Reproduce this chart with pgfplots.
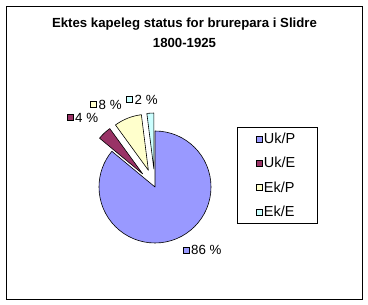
\documentclass[border=0pt]{standalone}
\usepackage{pgfplots}
\usepackage{pgfplotstable}
\pgfplotsset{compat=1.18}
\usepackage{fontspec}
\setmainfont{Liberation Sans}
\definecolor{c0}{HTML}{9999FF}
\definecolor{c1}{HTML}{993366}
\definecolor{c2}{HTML}{FFFFCC}
\definecolor{c3}{HTML}{CCFFFF}
\pgfplotstableread{
name value offset lx ly
Uk/P 86 0  186 250
Uk/E 4  18 70  117.5
Ek/P 8  18 93.5 104.5
Ek/E 2  18 129.5 99.5
}\piedata
\begin{document}
\begin{tikzpicture}
\useasboundingbox (0,0) rectangle (368bp,305bp);
\begin{axis}[
  at={(0,0)}, anchor=origin,
  scale only axis, width=368bp, height=305bp,
  xmin=0, xmax=368, ymin=0, ymax=305,
  axis lines=none, clip=false,
  legend style={at={(237/368,1-127/305)}, anchor=north west,
    draw=black, line width=0.8pt, font=\fontsize{14.5bp}{16bp}\selectfont,
    inner xsep=19bp, inner ysep=3.5bp, row sep=8.3bp,
    nodes={inner xsep=1bp, inner ysep=2bp, text width=34bp, align=left},
    /tikz/every even column/.style={column sep=2.5bp}},
  legend cell align=left,
  legend image code/.code={\draw[#1,draw=black,line width=0.5pt] (0bp,-3bp) rectangle (6bp,3bp);},
]
\draw[black, line width=0.8pt] (axis cs:6,6) rectangle (axis cs:362,299);
\node[font=\bfseries\fontsize{13.2bp}{15bp}\selectfont, anchor=base]
  at (axis cs:184.5,305-28) {Ektes kapeleg status for brurepara i Slidre};
\node[font=\bfseries\fontsize{13.2bp}{15bp}\selectfont, anchor=base]
  at (axis cs:184.5,305-48) {1800-1925};
\def\cx{155}\def\cy{118}
\gdef\curangle{90}
\pgfplotsforeachungrouped \i in {0,...,3}{%
  \pgfplotstablegetelem{\i}{value}\of\piedata \let\v\pgfplotsretval
  \pgfplotstablegetelem{\i}{offset}\of\piedata \let\o\pgfplotsretval
  \pgfplotstablegetelem{\i}{lx}\of\piedata \let\lx\pgfplotsretval
  \pgfplotstablegetelem{\i}{ly}\of\piedata \let\ly\pgfplotsretval
  \pgfmathsetmacro\sweep{3.6*\v}
  \pgfmathsetmacro\endangle{\curangle-\sweep}
  \pgfmathsetmacro\midangle{\curangle-\sweep/2}
  \pgfmathsetmacro\px{\cx+\o*cos(\midangle)}
  \pgfmathsetmacro\py{\cy+\o*sin(\midangle)}
  \pgfmathsetmacro\lyy{305-\ly}
  \pgfmathtruncatemacro\vv{\v}
  \edef\temp{\noexpand\filldraw[fill=c\i, draw=black, line width=0.6pt, line join=round]
     (axis cs:\px,\py) -- ++(\curangle:56bp) arc[start angle=\curangle, end angle=\endangle, radius=56bp] -- cycle;
     \noexpand\filldraw[fill=c\i, draw=black, line width=0.5pt] (axis cs:\lx,\lyy) ++(-3bp,-3bp) rectangle ++(6bp,6bp);
     \noexpand\node[anchor=west, inner sep=0pt, font=\noexpand\fontsize{13.3bp}{15bp}\noexpand\selectfont] at (axis cs:\lx,\lyy) [xshift=5bp] {\vv\space\noexpand\%};}%
  \temp
  \global\let\curangle\endangle
}
\addlegendimage{fill=c0}\addlegendentry{Uk/P}
\addlegendimage{fill=c1}\addlegendentry{Uk/E}
\addlegendimage{fill=c2}\addlegendentry{Ek/P}
\addlegendimage{fill=c3}\addlegendentry{Ek/E}
\end{axis}
\end{tikzpicture}
\end{document}
